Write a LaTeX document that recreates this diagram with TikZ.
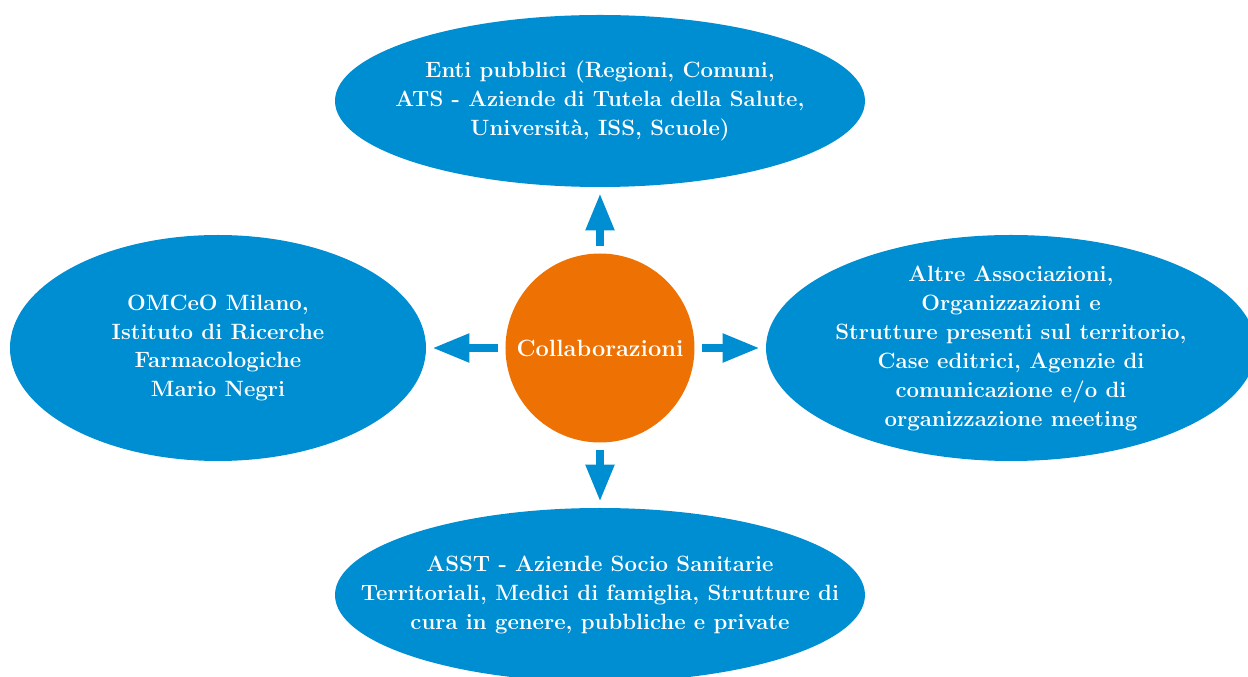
\documentclass[tikz,border=0pt]{standalone}
\usepackage{tikz}
\usetikzlibrary{arrows.meta,positioning,shapes.geometric}
\definecolor{partnerblue}{RGB}{0,142,211}
\definecolor{huborange}{RGB}{238,114,3}
\tikzset{
  bigfont/.style={font=\fontsize{12.6}{16.5}\selectfont\bfseries},
  partner/.style={ellipse, fill=partnerblue, inner sep=0pt},
  partnertext/.style={text=white, align=center, inner sep=0pt, bigfont},
  hub/.style={circle, fill=huborange, text=white, minimum size=3.78cm, inner sep=0pt,
    font=\fontsize{13.4}{16.5}\selectfont\bfseries},
  link/.style={partnerblue, line width=0.16cm, -{Triangle[length=0.74cm,width=0.54cm]},
    shorten <=0.15cm, shorten >=0.12cm}
}

\begin{document}
\begin{tikzpicture}
\useasboundingbox (-12,-6.58) rectangle (12.96,6.96);
\clip (-12,-6.58) rectangle (12.96,6.96);
% centre
\node[hub] (collab) at (0,0) {Collaborazioni};
% the four groups of partners
\node[partner, minimum width=10.6cm, minimum height=3.44cm] (enti) at (0,4.94)
  [label={[partnertext]center:{Enti pubblici (Regioni, Comuni,\\ATS - Aziende di Tutela della Salute,\\Università, ISS, Scuole)}}] {};
\node[partner, minimum width=8.32cm, minimum height=4.52cm] (omceo) at (-7.64,0)
  [label={[partnertext]center:{OMCeO Milano,\\Istituto di Ricerche\\Farmacologiche\\Mario Negri}}] {};
\node[partner, minimum width=9.8cm, minimum height=4.52cm] (altre) at (8.22,0)
  [label={[partnertext]center:{Altre Associazioni,\\Organizzazioni e\\Strutture presenti sul territorio,\\Case editrici, Agenzie di\\comunicazione e/o di\\organizzazione meeting}}] {};
\node[partner, minimum width=10.6cm, minimum height=3.48cm] (asst) at (0,-4.94)
  [label={[partnertext]center:{ASST - Aziende Socio Sanitarie\\Territoriali, Medici di famiglia, Strutture di\\cura in genere, pubbliche e private}}] {};
% arrows out of the centre
\draw[link] (collab) -- (enti);
\draw[link] (collab) -- (omceo);
\draw[link] (collab) -- (altre);
\draw[link] (collab) -- (asst);
\end{tikzpicture}
\end{document}
